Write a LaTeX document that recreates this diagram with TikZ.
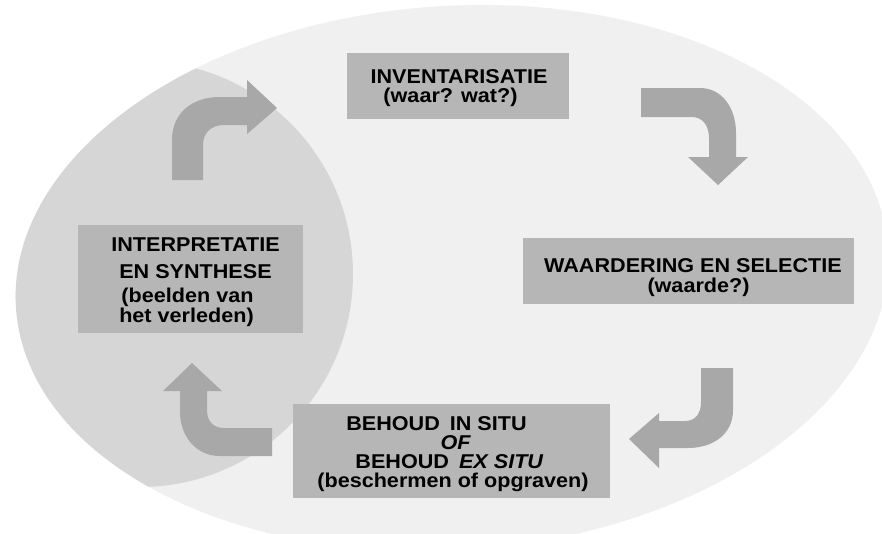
\documentclass[tikz,border=0pt]{standalone}
\usepackage{fontspec}
\setmainfont{Liberation Sans}[FakeStretch=1.08]
\definecolor{bgell}{HTML}{F0F0F0}
\definecolor{lensc}{HTML}{D6D6D6}
\definecolor{boxc}{HTML}{B6B6B6}
\definecolor{arrc}{HTML}{A8A8A8}
\tikzset{
  box/.style={fill=boxc, draw=none, inner sep=0pt, rectangle},
  lbl/.style={anchor=base, inner sep=0pt, font=\fontsize{20}{20}\selectfont\bfseries},
  blockarrow/.style={fill=arrc, draw=none},
  ellclip/.style={rotate around={4:(452,278)}}
}
\begin{document}
\begin{tikzpicture}[x=1pt,y=-1pt]
\clip (0,0) rectangle (882,533);
\fill[white] (0,0) rectangle (882,533);
% big ellipse
\fill[bgell, ellclip] (452,278) ellipse [x radius=437, y radius=272];
% lens = ellipse cut by circle
\begin{scope}
  \clip[ellclip] (452,278) ellipse [x radius=437, y radius=272];
  \fill[lensc] (140,274) circle [radius=213];
\end{scope}
% boxes
\node[box, minimum width=222pt, minimum height=66pt] (inv) at (458,86) {};
\node[box, minimum width=331pt, minimum height=66pt] (waa) at (688.5,271) {};
\node[box, minimum width=225pt, minimum height=108pt] (int) at (190.5,279) {};
\node[box, minimum width=317pt, minimum height=94pt] (beh) at (451.5,451) {};
% texts
\node[lbl] (inv1) at (459,83) {INVENTARISATIE};
\node[lbl] (inv2) at (450.5,102) {(waar? wat?)};
\node[lbl] (waa1) at (693,272) {WAARDERING EN SELECTIE};
\node[lbl] (waa2) at (698.5,292) {(waarde?)};
\node[lbl] (int1) at (195.5,251) {INTERPRETATIE};
\node[lbl] (int2) at (195.5,278) {EN SYNTHESE};
\node[lbl] (int3) at (187.5,302) {(beelden van};
\node[lbl] (int4) at (186.5,322) {het verleden)};
\node[lbl] (beh1) at (436.5,430) {BEHOUD\hspace{4pt} IN SITU};
\node[lbl] (beh2) at (455.5,449.5) {\itshape OF};
\node[lbl] (beh3) at (449.5,468.5) {BEHOUD\hspace{4pt} \textit{EX SITU}};
\node[lbl] (beh4) at (453,487) {(beschermen of opgraven)};
% block arrows
\fill[blockarrow] (172,180) -- (172,140) .. controls (172,113) and (192,97) .. (220,97)
  -- (247,97) -- (247,80) -- (277,108) -- (247,134) -- (247,125) -- (224,125)
  .. controls (211,125) and (203,133) .. (203,145) -- (203,180) -- cycle;
\fill[blockarrow] (641,88) -- (700,88) .. controls (722,88) and (736,108) .. (736,133)
  -- (736,157) -- (748,157) -- (718,185) -- (688,157) -- (709,157) -- (709,138)
  .. controls (709,125) and (702,117) .. (692,117) -- (641,117) -- cycle;
\fill[blockarrow] (701,368) -- (733,368) -- (733,410) .. controls (733,435) and (712,448) .. (688,448)
  -- (659,448) -- (659,468) -- (629,439) -- (659,413) -- (659,421) -- (685,421)
  .. controls (695,421) and (701,414) .. (701,402) -- cycle;
\fill[blockarrow] (272,428) -- (272,456) -- (220,456) .. controls (195,456) and (180,435) .. (180,412)
  -- (180,391) -- (163,391) -- (192,363) -- (222,391) -- (207,391) -- (207,410)
  .. controls (207,421) and (213,428) .. (224,428) -- cycle;
\end{tikzpicture}
\end{document}
